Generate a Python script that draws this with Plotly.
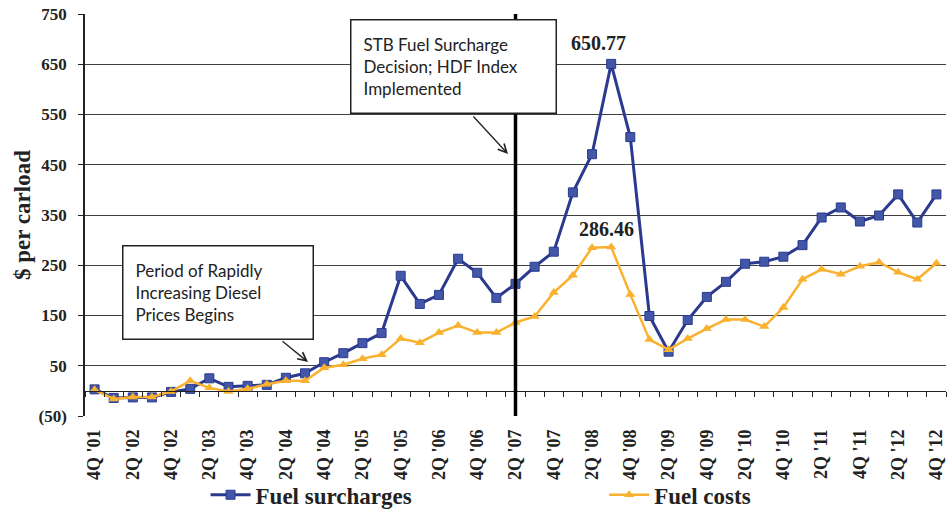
import plotly.graph_objects as go

quarters = [
    "4Q '01", "1Q '02", "2Q '02", "3Q '02", "4Q '02", "1Q '03", "2Q '03", "3Q '03", "4Q '03",
    "1Q '04", "2Q '04", "3Q '04", "4Q '04", "1Q '05", "2Q '05", "3Q '05", "4Q '05",
    "1Q '06", "2Q '06", "3Q '06", "4Q '06", "1Q '07", "2Q '07", "3Q '07", "4Q '07",
    "1Q '08", "2Q '08", "3Q '08", "4Q '08", "1Q '09", "2Q '09", "3Q '09", "4Q '09",
    "1Q '10", "2Q '10", "3Q '10", "4Q '10", "1Q '11", "2Q '11", "3Q '11", "4Q '11",
    "1Q '12", "2Q '12", "3Q '12", "4Q '12",
]
fuel_surcharges = [3, -14, -13, -13, -2, 4, 25, 8, 10, 12, 26, 35, 57, 75, 95, 115, 229,
                   173, 191, 263, 235, 185, 213, 247, 277, 395, 471, 650.77, 505, 149, 78,
                   141, 187, 217, 253, 257, 267, 290, 345, 365, 337, 349, 391, 335, 391]
fuel_costs = [2, -16, -12, -12, -1, 20, 6, -1, 4, 13, 20, 20, 46, 52, 64, 72, 104,
              96, 116, 130, 116, 116, 136, 148, 196, 230, 285, 286.46, 192, 102, 82,
              104, 124, 142, 142, 128, 166, 222, 242, 232, 248, 256, 236, 222, 254]
x_tick_labels = quarters[::2]
y_tick_values = [-50, 50, 150, 250, 350, 450, 550, 650, 750]
y_tick_labels = ["(50)", "50", "150", "250", "350", "450", "550", "650", "750"]
decision_quarter = "2Q '07"

SERIF = "Liberation Serif"
SANS = "Lato"
BLUE = "#2B3A8F"
BLUE_M = "#4257A7"
YEL = "#F9B12F"

fig = go.Figure()
fig.add_trace(go.Scatter(
    x=quarters, y=fuel_surcharges, name="Fuel surcharges", mode="lines+markers",
    line=dict(color=BLUE, width=3),
    marker=dict(symbol="square", size=9, color=BLUE_M, line=dict(color=BLUE, width=1)),
    legend="legend",
))
fig.add_trace(go.Scatter(
    x=quarters, y=fuel_costs, name="Fuel costs", mode="lines+markers",
    line=dict(color=YEL, width=2.5),
    marker=dict(symbol="triangle-up", size=9, color=YEL),
    legend="legend2",
))
# helper trace for the zero-line axis with category ticks
fig.add_trace(go.Scatter(x=[0], y=[0], xaxis="x2", mode="markers", opacity=0,
                         showlegend=False, hoverinfo="skip"))

peak_s = max(range(len(fuel_surcharges)), key=lambda i: fuel_surcharges[i])
peak_c = max(range(len(fuel_costs)), key=lambda i: fuel_costs[i])

annotations = [
    dict(x=quarters[peak_s], y=fuel_surcharges[peak_s], text=f"{fuel_surcharges[peak_s]:.2f}",
         showarrow=False, xshift=-13, yshift=21,
         font=dict(family=SERIF, size=20, color="#222", weight="bold")),
    dict(x=quarters[peak_c], y=fuel_costs[peak_c], text=f"{fuel_costs[peak_c]:.2f}",
         showarrow=False, xshift=-5, yshift=18,
         font=dict(family=SERIF, size=20, color="#222", weight="bold")),
    dict(xref="paper", yref="paper", x=0.3078, y=0.9876, xanchor="left", yanchor="top",
         text="STB Fuel Surcharge<br>Decision; HDF Index<br>Implemented",
         align="left", showarrow=False, width=180, height=68, borderpad=12,
         bordercolor="#222", borderwidth=1.5, bgcolor="white",
         font=dict(family=SANS, size=17, color="#222")),
    dict(xref="paper", yref="paper", x=0.043, y=0.4254, xanchor="left", yanchor="top",
         text="Period of Rapidly<br>Increasing Diesel<br>Prices Begins",
         align="left", showarrow=False, width=165, height=68, borderpad=12,
         bordercolor="#222", borderwidth=1.5, bgcolor="white",
         font=dict(family=SANS, size=17, color="#222")),
    dict(xref="paper", yref="paper", x=0.4913, y=0.6517, text="", showarrow=True,
         ax=-36, ay=-39, arrowhead=5, arrowsize=1.3, arrowwidth=1.3, arrowcolor="#222"),
    dict(xref="paper", yref="paper", x=0.259, y=0.1343, text="", showarrow=True,
         ax=-27, ay=-22, arrowhead=5, arrowsize=1.3, arrowwidth=1.3, arrowcolor="#222"),
]

fig.add_shape(type="line", xref="x", yref="paper", x0=decision_quarter, x1=decision_quarter,
              y0=0, y1=1, line=dict(color="black", width=3.5), layer="above")

fig.update_layout(
    width=949, height=510,
    margin=dict(l=85, r=3, t=14, b=94, autoexpand=False),
    paper_bgcolor="white", plot_bgcolor="white",
    annotations=annotations,
    xaxis=dict(
        type="category", categoryorder="array", categoryarray=quarters,
        range=[-0.5, len(quarters) - 0.5], automargin=False,
        tickmode="array", tickvals=x_tick_labels, ticktext=x_tick_labels,
        tickangle=-90, ticks="", showgrid=False, showline=False, zeroline=False,
        ticklabelstandoff=9,
        tickfont=dict(family=SERIF, size=18, color="#222", weight="bold"),
    ),
    xaxis2=dict(
        overlaying="x", anchor="free", position=50 / 800, side="bottom",
        type="linear", range=[-0.5, len(quarters) - 0.5], automargin=False,
        tickmode="linear", tick0=-0.5, dtick=1,
        ticks="outside", ticklen=5, tickcolor="#222", tickwidth=1,
        showline=True, linecolor="#222", linewidth=1,
        showticklabels=False, showgrid=False, zeroline=False,
    ),
    yaxis=dict(
        range=[-50, 750], tickmode="array", tickvals=y_tick_values, ticktext=y_tick_labels,
        automargin=False,
        showgrid=True, gridcolor="#404040", gridwidth=1,
        showline=True, linecolor="#222", linewidth=1.5,
        ticks="outside", ticklen=5, tickcolor="#222", zeroline=False,
        ticklabelstandoff=8,
        tickfont=dict(family=SERIF, size=17, color="#222", weight="bold"),
        title=dict(text="$ per carload", standoff=1,
                   font=dict(family=SERIF, size=23, color="#222", weight="bold")),
    ),
    legend=dict(orientation="h", x=0.14, y=-0.196, xanchor="left", yanchor="middle",
                itemwidth=40, bgcolor="rgba(0,0,0,0)",
                font=dict(family=SERIF, size=23, color="#222", weight="bold")),
    legend2=dict(orientation="h", x=0.603, y=-0.196, xanchor="left", yanchor="middle",
                 itemwidth=40, bgcolor="rgba(0,0,0,0)",
                 font=dict(family=SERIF, size=23, color="#222", weight="bold")),
    showlegend=True,
)

fig.write_html("out.html", config={"displayModeBar": False},
               post_script="document.body.style.margin='0';")
